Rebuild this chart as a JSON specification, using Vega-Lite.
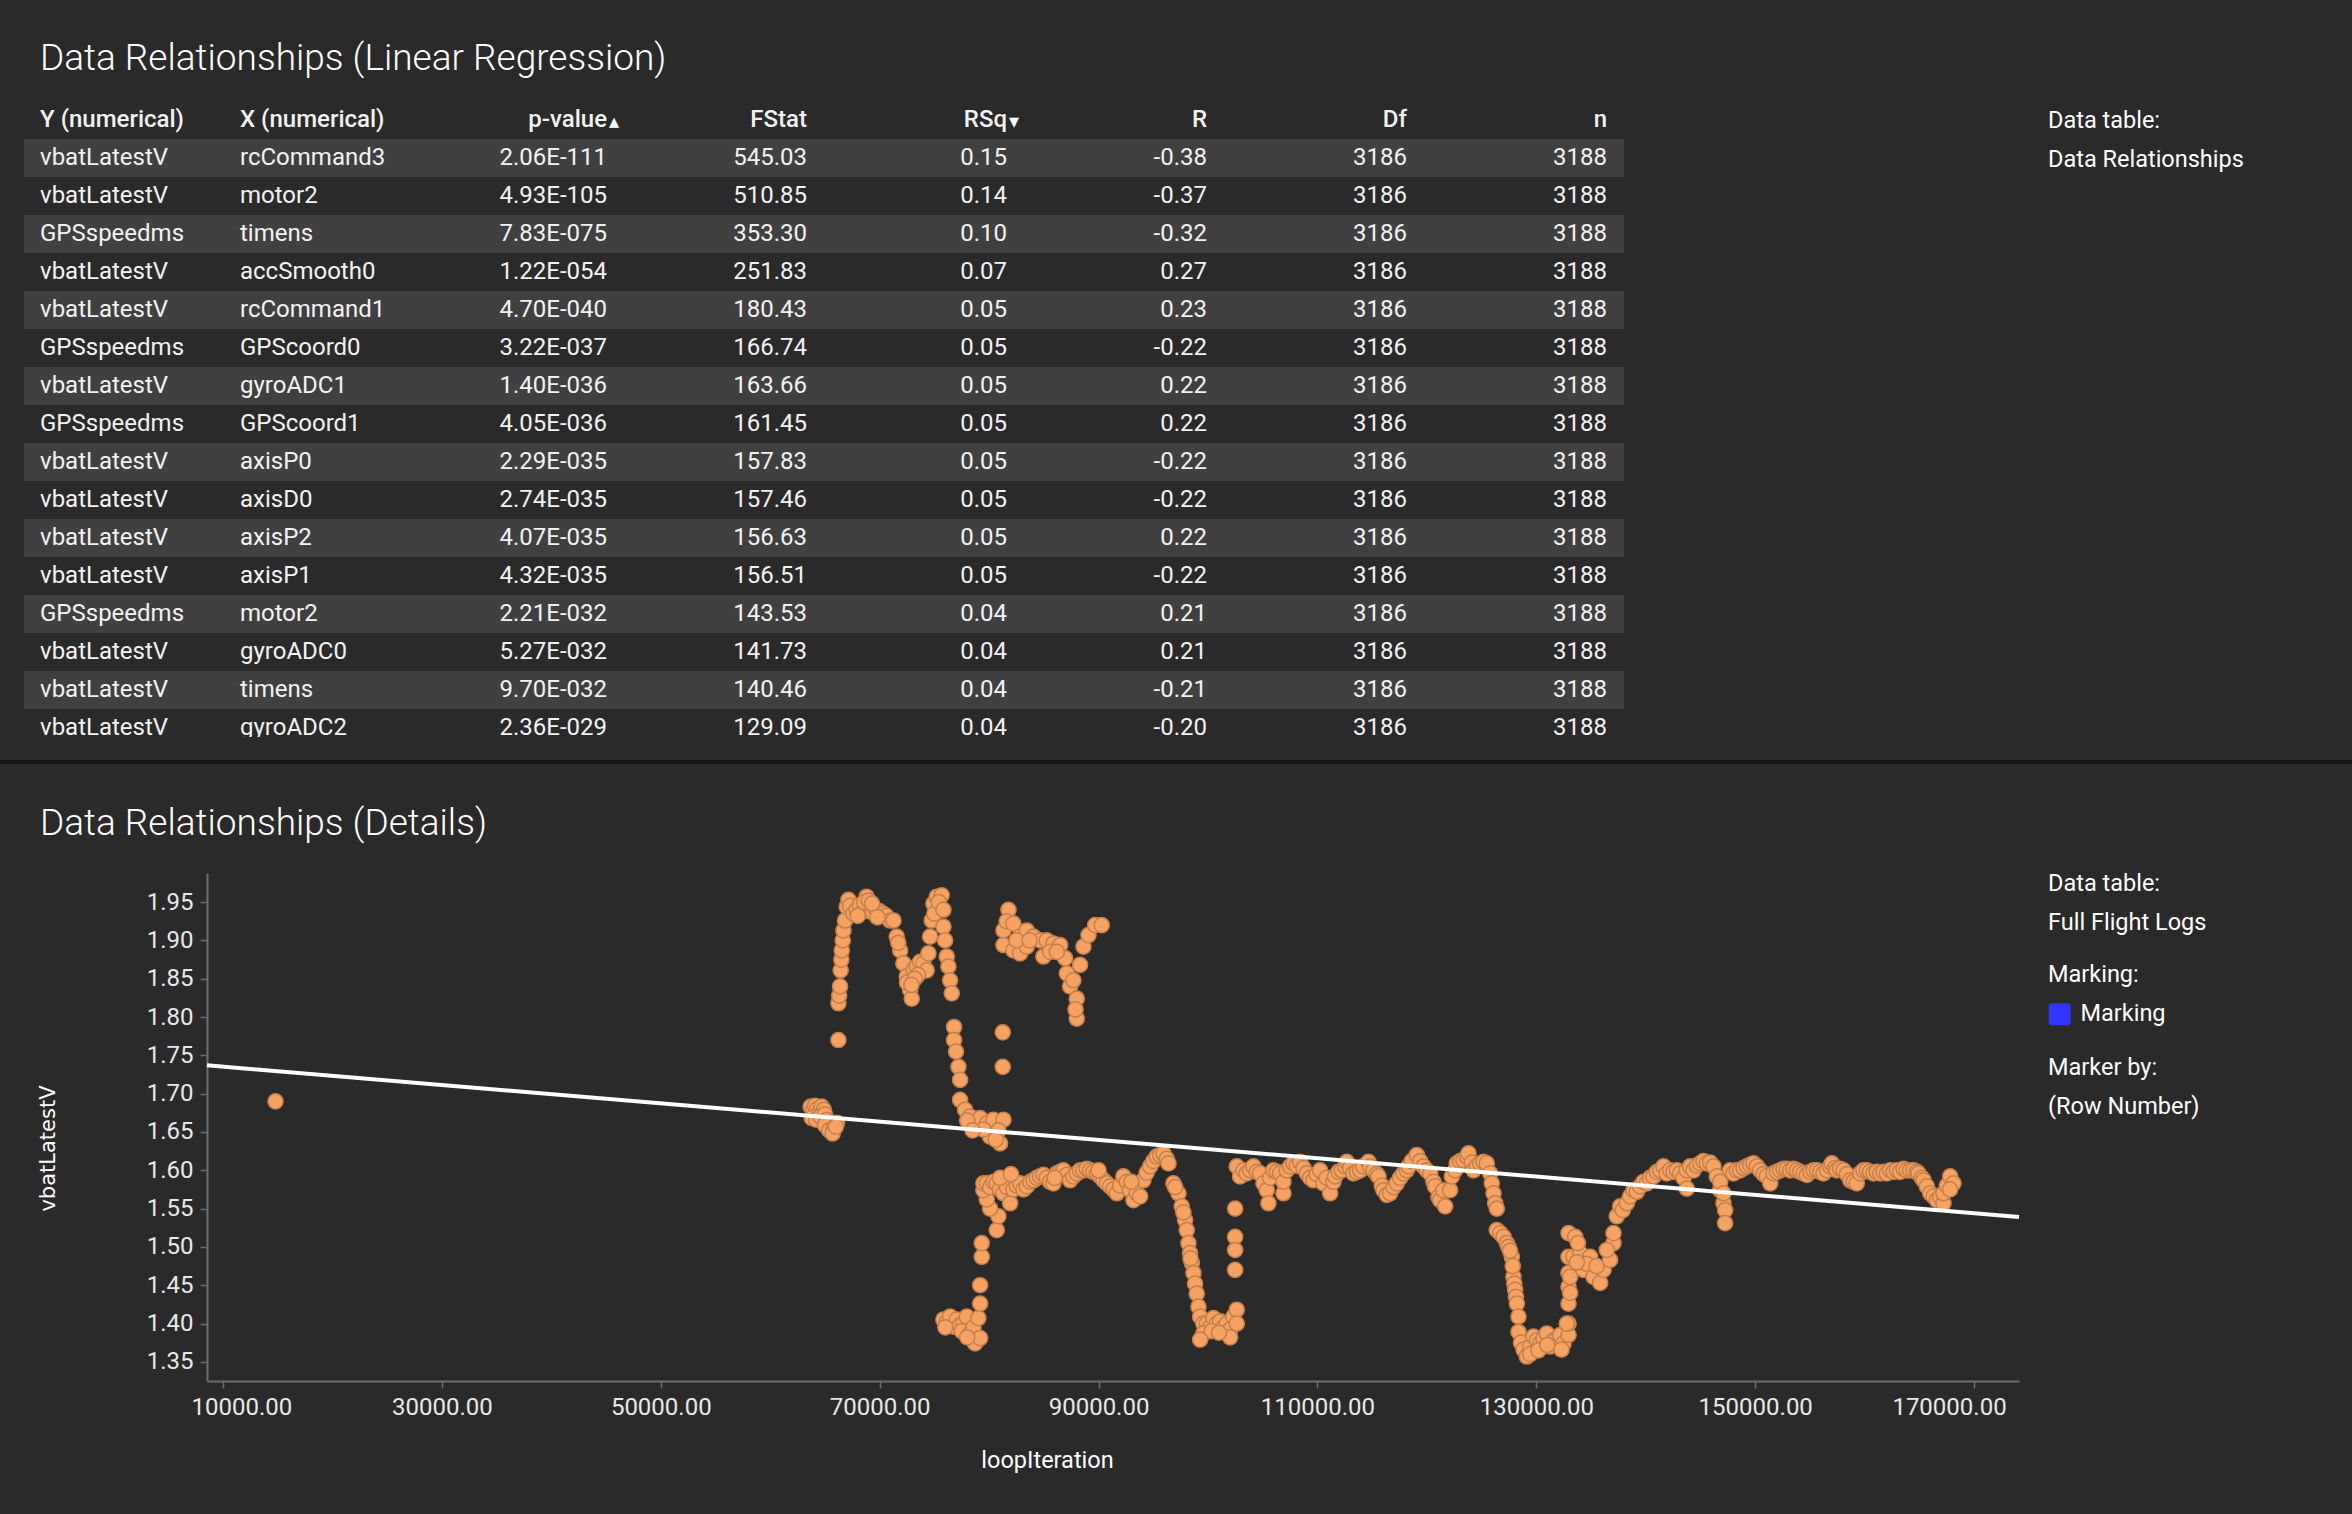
{
  "$schema": "https://vega.github.io/schema/vega-lite/v6.json",
  "background": "#2a2a2a",
  "padding": {"left": 0, "top": 40, "right": 0, "bottom": 43},
  "spacing": 41,
  "resolve": {"scale": {"color": "independent", "shape": "independent"}, "legend": {"color": "independent", "shape": "independent"}},
  "config": {
    "view": {"stroke": null},
    "font": "Roboto",
    "locale": {"number": {"decimal": ".", "thousands": ",", "grouping": [3], "currency": ["$", ""], "minus": "-"}},
    "title": {"font": "Roboto", "fontSize": 37, "fontWeight": 300, "color": "#ffffff", "anchor": "start", "frame": "group", "baseline": "alphabetic"},
    "axis": {"labelFont": "Roboto", "labelFontSize": 24, "labelColor": "#e8e8e8", "domainColor": "#6e6e6e", "tickColor": "#6e6e6e", "domainWidth": 2, "tickWidth": 1.5, "grid": false, "titleColor": "#ffffff"},
    "legend": {"titleFont": "Roboto", "titleFontSize": 23.5, "titleFontWeight": 400, "titleColor": "#ffffff", "labelFont": "Roboto", "labelFontSize": 23.5, "labelColor": "#ffffff", "titlePadding": 16, "labelLimit": 500, "titleLimit": 500},
    "text": {"font": "Roboto", "fontSize": 24, "color": "#f2f2f2"}
  },
  "datasets": {
    "rows": [
      {"rank": 1, "Y": "vbatLatestV", "X": "rcCommand3", "pvalue": "2.06E-111", "FStat": 545.03, "RSq": 0.15, "R": -0.38, "Df": 3186, "n": 3188},
      {"rank": 2, "Y": "vbatLatestV", "X": "motor2", "pvalue": "4.93E-105", "FStat": 510.85, "RSq": 0.14, "R": -0.37, "Df": 3186, "n": 3188},
      {"rank": 3, "Y": "GPSspeedms", "X": "timens", "pvalue": "7.83E-075", "FStat": 353.30, "RSq": 0.10, "R": -0.32, "Df": 3186, "n": 3188},
      {"rank": 4, "Y": "vbatLatestV", "X": "accSmooth0", "pvalue": "1.22E-054", "FStat": 251.83, "RSq": 0.07, "R": 0.27, "Df": 3186, "n": 3188},
      {"rank": 5, "Y": "vbatLatestV", "X": "rcCommand1", "pvalue": "4.70E-040", "FStat": 180.43, "RSq": 0.05, "R": 0.23, "Df": 3186, "n": 3188},
      {"rank": 6, "Y": "GPSspeedms", "X": "GPScoord0", "pvalue": "3.22E-037", "FStat": 166.74, "RSq": 0.05, "R": -0.22, "Df": 3186, "n": 3188},
      {"rank": 7, "Y": "vbatLatestV", "X": "gyroADC1", "pvalue": "1.40E-036", "FStat": 163.66, "RSq": 0.05, "R": 0.22, "Df": 3186, "n": 3188},
      {"rank": 8, "Y": "GPSspeedms", "X": "GPScoord1", "pvalue": "4.05E-036", "FStat": 161.45, "RSq": 0.05, "R": 0.22, "Df": 3186, "n": 3188},
      {"rank": 9, "Y": "vbatLatestV", "X": "axisP0", "pvalue": "2.29E-035", "FStat": 157.83, "RSq": 0.05, "R": -0.22, "Df": 3186, "n": 3188},
      {"rank": 10, "Y": "vbatLatestV", "X": "axisD0", "pvalue": "2.74E-035", "FStat": 157.46, "RSq": 0.05, "R": -0.22, "Df": 3186, "n": 3188},
      {"rank": 11, "Y": "vbatLatestV", "X": "axisP2", "pvalue": "4.07E-035", "FStat": 156.63, "RSq": 0.05, "R": 0.22, "Df": 3186, "n": 3188},
      {"rank": 12, "Y": "vbatLatestV", "X": "axisP1", "pvalue": "4.32E-035", "FStat": 156.51, "RSq": 0.05, "R": -0.22, "Df": 3186, "n": 3188},
      {"rank": 13, "Y": "GPSspeedms", "X": "motor2", "pvalue": "2.21E-032", "FStat": 143.53, "RSq": 0.04, "R": 0.21, "Df": 3186, "n": 3188},
      {"rank": 14, "Y": "vbatLatestV", "X": "gyroADC0", "pvalue": "5.27E-032", "FStat": 141.73, "RSq": 0.04, "R": 0.21, "Df": 3186, "n": 3188},
      {"rank": 15, "Y": "vbatLatestV", "X": "timens", "pvalue": "9.70E-032", "FStat": 140.46, "RSq": 0.04, "R": -0.21, "Df": 3186, "n": 3188},
      {"rank": 16, "Y": "vbatLatestV", "X": "gyroADC2", "pvalue": "2.36E-029", "FStat": 129.09, "RSq": 0.04, "R": -0.20, "Df": 3186, "n": 3188}
    ],
    "headers": [
      {"col": "Y", "label": "Y (numerical)"},
      {"col": "X", "label": "X (numerical)"},
      {"col": "pvalue", "label": "p-value"},
      {"col": "FStat", "label": "FStat"},
      {"col": "RSq", "label": "RSq"},
      {"col": "R", "label": "R"},
      {"col": "Df", "label": "Df"},
      {"col": "n", "label": "n"}
    ],
    "sorts": [
      {"col": "pvalue", "arrow": "▴"},
      {"col": "RSq", "arrow": "▾"}
    ],
    "fit": [
      {"loopIteration": 8540, "vbatLatestV": 1.737},
      {"loopIteration": 174100, "vbatLatestV": 1.539}
    ],
    "points": [
      {"loopIteration": 14800, "vbatLatestV": 1.690},
      {"loopIteration": 63700, "vbatLatestV": 1.683}, {"loopIteration": 63900, "vbatLatestV": 1.678}, {"loopIteration": 64100, "vbatLatestV": 1.684}, {"loopIteration": 64300, "vbatLatestV": 1.680}, {"loopIteration": 64500, "vbatLatestV": 1.676}, {"loopIteration": 64700, "vbatLatestV": 1.683}, {"loopIteration": 64900, "vbatLatestV": 1.679}, {"loopIteration": 63800, "vbatLatestV": 1.668}, {"loopIteration": 64200, "vbatLatestV": 1.666}, {"loopIteration": 64600, "vbatLatestV": 1.670}, {"loopIteration": 65000, "vbatLatestV": 1.673}, {"loopIteration": 65200, "vbatLatestV": 1.666}, {"loopIteration": 65400, "vbatLatestV": 1.662}, {"loopIteration": 65600, "vbatLatestV": 1.658}, {"loopIteration": 65000, "vbatLatestV": 1.659}, {"loopIteration": 65400, "vbatLatestV": 1.652}, {"loopIteration": 65800, "vbatLatestV": 1.654}, {"loopIteration": 66100, "vbatLatestV": 1.662}, {"loopIteration": 65700, "vbatLatestV": 1.648}, {"loopIteration": 66000, "vbatLatestV": 1.657},
      {"loopIteration": 66230, "vbatLatestV": 1.770},
      {"loopIteration": 66230, "vbatLatestV": 1.818}, {"loopIteration": 66300, "vbatLatestV": 1.828}, {"loopIteration": 66380, "vbatLatestV": 1.840}, {"loopIteration": 66440, "vbatLatestV": 1.861}, {"loopIteration": 66500, "vbatLatestV": 1.875}, {"loopIteration": 66540, "vbatLatestV": 1.887}, {"loopIteration": 66630, "vbatLatestV": 1.900}, {"loopIteration": 66690, "vbatLatestV": 1.913}, {"loopIteration": 66840, "vbatLatestV": 1.926}, {"loopIteration": 66990, "vbatLatestV": 1.944}, {"loopIteration": 67150, "vbatLatestV": 1.953},
      {"loopIteration": 67300, "vbatLatestV": 1.945}, {"loopIteration": 67600, "vbatLatestV": 1.935}, {"loopIteration": 67900, "vbatLatestV": 1.940}, {"loopIteration": 68200, "vbatLatestV": 1.946}, {"loopIteration": 68500, "vbatLatestV": 1.938}, {"loopIteration": 68800, "vbatLatestV": 1.957}, {"loopIteration": 69100, "vbatLatestV": 1.944}, {"loopIteration": 69400, "vbatLatestV": 1.936}, {"loopIteration": 69700, "vbatLatestV": 1.940}, {"loopIteration": 70000, "vbatLatestV": 1.938}, {"loopIteration": 70300, "vbatLatestV": 1.935}, {"loopIteration": 70600, "vbatLatestV": 1.932}, {"loopIteration": 70950, "vbatLatestV": 1.926}, {"loopIteration": 68600, "vbatLatestV": 1.950}, {"loopIteration": 69000, "vbatLatestV": 1.952}, {"loopIteration": 69300, "vbatLatestV": 1.948}, {"loopIteration": 68000, "vbatLatestV": 1.932}, {"loopIteration": 69800, "vbatLatestV": 1.930},
      {"loopIteration": 71260, "vbatLatestV": 1.926}, {"loopIteration": 71560, "vbatLatestV": 1.905}, {"loopIteration": 71870, "vbatLatestV": 1.887}, {"loopIteration": 72170, "vbatLatestV": 1.870}, {"loopIteration": 72480, "vbatLatestV": 1.853}, {"loopIteration": 72780, "vbatLatestV": 1.835}, {"loopIteration": 72930, "vbatLatestV": 1.824}, {"loopIteration": 72500, "vbatLatestV": 1.845}, {"loopIteration": 71700, "vbatLatestV": 1.897},
      {"loopIteration": 73100, "vbatLatestV": 1.862}, {"loopIteration": 73390, "vbatLatestV": 1.866}, {"loopIteration": 73700, "vbatLatestV": 1.872}, {"loopIteration": 74000, "vbatLatestV": 1.870}, {"loopIteration": 74300, "vbatLatestV": 1.861}, {"loopIteration": 73500, "vbatLatestV": 1.855}, {"loopIteration": 73200, "vbatLatestV": 1.850}, {"loopIteration": 72900, "vbatLatestV": 1.842},
      {"loopIteration": 74455, "vbatLatestV": 1.883}, {"loopIteration": 74610, "vbatLatestV": 1.905}, {"loopIteration": 74760, "vbatLatestV": 1.926}, {"loopIteration": 74910, "vbatLatestV": 1.948}, {"loopIteration": 75220, "vbatLatestV": 1.957}, {"loopIteration": 75670, "vbatLatestV": 1.959}, {"loopIteration": 75000, "vbatLatestV": 1.935}, {"loopIteration": 75400, "vbatLatestV": 1.950},
      {"loopIteration": 75825, "vbatLatestV": 1.940}, {"loopIteration": 75825, "vbatLatestV": 1.918}, {"loopIteration": 75980, "vbatLatestV": 1.900}, {"loopIteration": 76130, "vbatLatestV": 1.879}, {"loopIteration": 76280, "vbatLatestV": 1.866}, {"loopIteration": 76435, "vbatLatestV": 1.848}, {"loopIteration": 76590, "vbatLatestV": 1.831},
      {"loopIteration": 76800, "vbatLatestV": 1.787}, {"loopIteration": 76800, "vbatLatestV": 1.770}, {"loopIteration": 76980, "vbatLatestV": 1.755}, {"loopIteration": 77200, "vbatLatestV": 1.735}, {"loopIteration": 77350, "vbatLatestV": 1.718},
      {"loopIteration": 77350, "vbatLatestV": 1.692}, {"loopIteration": 77800, "vbatLatestV": 1.679}, {"loopIteration": 78260, "vbatLatestV": 1.670}, {"loopIteration": 78720, "vbatLatestV": 1.661}, {"loopIteration": 79180, "vbatLatestV": 1.668}, {"loopIteration": 79790, "vbatLatestV": 1.661}, {"loopIteration": 80390, "vbatLatestV": 1.666}, {"loopIteration": 81310, "vbatLatestV": 1.666}, {"loopIteration": 80850, "vbatLatestV": 1.652}, {"loopIteration": 80090, "vbatLatestV": 1.644}, {"loopIteration": 81000, "vbatLatestV": 1.635}, {"loopIteration": 79480, "vbatLatestV": 1.653}, {"loopIteration": 78000, "vbatLatestV": 1.665}, {"loopIteration": 78500, "vbatLatestV": 1.652}, {"loopIteration": 80600, "vbatLatestV": 1.640},
      {"loopIteration": 81250, "vbatLatestV": 1.780}, {"loopIteration": 81250, "vbatLatestV": 1.735},
      {"loopIteration": 81770, "vbatLatestV": 1.940}, {"loopIteration": 81310, "vbatLatestV": 1.913}, {"loopIteration": 81310, "vbatLatestV": 1.894}, {"loopIteration": 81600, "vbatLatestV": 1.925}, {"loopIteration": 82220, "vbatLatestV": 1.922}, {"loopIteration": 82830, "vbatLatestV": 1.905}, {"loopIteration": 83440, "vbatLatestV": 1.913}, {"loopIteration": 84050, "vbatLatestV": 1.905}, {"loopIteration": 84660, "vbatLatestV": 1.900}, {"loopIteration": 85270, "vbatLatestV": 1.900}, {"loopIteration": 85880, "vbatLatestV": 1.896}, {"loopIteration": 86490, "vbatLatestV": 1.894}, {"loopIteration": 82220, "vbatLatestV": 1.887}, {"loopIteration": 82830, "vbatLatestV": 1.883}, {"loopIteration": 84960, "vbatLatestV": 1.879}, {"loopIteration": 86940, "vbatLatestV": 1.877}, {"loopIteration": 87100, "vbatLatestV": 1.857}, {"loopIteration": 87400, "vbatLatestV": 1.840}, {"loopIteration": 88010, "vbatLatestV": 1.824}, {"loopIteration": 88010, "vbatLatestV": 1.798}, {"loopIteration": 88310, "vbatLatestV": 1.868}, {"loopIteration": 88620, "vbatLatestV": 1.892}, {"loopIteration": 89080, "vbatLatestV": 1.907}, {"loopIteration": 89690, "vbatLatestV": 1.920}, {"loopIteration": 90290, "vbatLatestV": 1.920}, {"loopIteration": 87700, "vbatLatestV": 1.848}, {"loopIteration": 83440, "vbatLatestV": 1.892}, {"loopIteration": 85570, "vbatLatestV": 1.885}, {"loopIteration": 86180, "vbatLatestV": 1.885}, {"loopIteration": 82500, "vbatLatestV": 1.900}, {"loopIteration": 83700, "vbatLatestV": 1.900}, {"loopIteration": 87900, "vbatLatestV": 1.810},
      {"loopIteration": 75820, "vbatLatestV": 1.405}, {"loopIteration": 76130, "vbatLatestV": 1.402}, {"loopIteration": 76435, "vbatLatestV": 1.409}, {"loopIteration": 76740, "vbatLatestV": 1.396}, {"loopIteration": 77040, "vbatLatestV": 1.405}, {"loopIteration": 77350, "vbatLatestV": 1.398}, {"loopIteration": 77650, "vbatLatestV": 1.400}, {"loopIteration": 77500, "vbatLatestV": 1.390}, {"loopIteration": 77960, "vbatLatestV": 1.409}, {"loopIteration": 78260, "vbatLatestV": 1.387}, {"loopIteration": 78570, "vbatLatestV": 1.395}, {"loopIteration": 78720, "vbatLatestV": 1.374}, {"loopIteration": 79020, "vbatLatestV": 1.407}, {"loopIteration": 79180, "vbatLatestV": 1.381}, {"loopIteration": 76000, "vbatLatestV": 1.395}, {"loopIteration": 78000, "vbatLatestV": 1.382},
      {"loopIteration": 79180, "vbatLatestV": 1.426}, {"loopIteration": 79180, "vbatLatestV": 1.450}, {"loopIteration": 79330, "vbatLatestV": 1.487}, {"loopIteration": 79330, "vbatLatestV": 1.505}, {"loopIteration": 80700, "vbatLatestV": 1.522}, {"loopIteration": 80850, "vbatLatestV": 1.540}, {"loopIteration": 80090, "vbatLatestV": 1.550}, {"loopIteration": 79790, "vbatLatestV": 1.562}, {"loopIteration": 79480, "vbatLatestV": 1.574}, {"loopIteration": 79480, "vbatLatestV": 1.583},
      {"loopIteration": 79790, "vbatLatestV": 1.583}, {"loopIteration": 80100, "vbatLatestV": 1.578}, {"loopIteration": 80400, "vbatLatestV": 1.585}, {"loopIteration": 80700, "vbatLatestV": 1.583}, {"loopIteration": 81000, "vbatLatestV": 1.575}, {"loopIteration": 81310, "vbatLatestV": 1.570}, {"loopIteration": 81620, "vbatLatestV": 1.578}, {"loopIteration": 81920, "vbatLatestV": 1.557}, {"loopIteration": 82220, "vbatLatestV": 1.575}, {"loopIteration": 82530, "vbatLatestV": 1.580}, {"loopIteration": 82830, "vbatLatestV": 1.583}, {"loopIteration": 83140, "vbatLatestV": 1.575}, {"loopIteration": 83440, "vbatLatestV": 1.579}, {"loopIteration": 83750, "vbatLatestV": 1.585}, {"loopIteration": 84050, "vbatLatestV": 1.587}, {"loopIteration": 84360, "vbatLatestV": 1.590}, {"loopIteration": 84660, "vbatLatestV": 1.592}, {"loopIteration": 84970, "vbatLatestV": 1.594}, {"loopIteration": 85270, "vbatLatestV": 1.590}, {"loopIteration": 85580, "vbatLatestV": 1.585}, {"loopIteration": 85880, "vbatLatestV": 1.583}, {"loopIteration": 86180, "vbatLatestV": 1.596}, {"loopIteration": 86490, "vbatLatestV": 1.598}, {"loopIteration": 86790, "vbatLatestV": 1.600}, {"loopIteration": 87100, "vbatLatestV": 1.594}, {"loopIteration": 87400, "vbatLatestV": 1.587}, {"loopIteration": 87700, "vbatLatestV": 1.592}, {"loopIteration": 88010, "vbatLatestV": 1.596}, {"loopIteration": 88310, "vbatLatestV": 1.600}, {"loopIteration": 88620, "vbatLatestV": 1.600}, {"loopIteration": 88920, "vbatLatestV": 1.602}, {"loopIteration": 89230, "vbatLatestV": 1.600}, {"loopIteration": 89530, "vbatLatestV": 1.598}, {"loopIteration": 89840, "vbatLatestV": 1.596}, {"loopIteration": 90140, "vbatLatestV": 1.592}, {"loopIteration": 90450, "vbatLatestV": 1.587}, {"loopIteration": 90750, "vbatLatestV": 1.583}, {"loopIteration": 91060, "vbatLatestV": 1.579}, {"loopIteration": 91360, "vbatLatestV": 1.575}, {"loopIteration": 91670, "vbatLatestV": 1.570}, {"loopIteration": 91970, "vbatLatestV": 1.580}, {"loopIteration": 92270, "vbatLatestV": 1.592}, {"loopIteration": 92580, "vbatLatestV": 1.585}, {"loopIteration": 92880, "vbatLatestV": 1.574}, {"loopIteration": 93190, "vbatLatestV": 1.561}, {"loopIteration": 93490, "vbatLatestV": 1.570}, {"loopIteration": 93800, "vbatLatestV": 1.566}, {"loopIteration": 94100, "vbatLatestV": 1.587}, {"loopIteration": 94400, "vbatLatestV": 1.597}, {"loopIteration": 94710, "vbatLatestV": 1.605}, {"loopIteration": 95010, "vbatLatestV": 1.612}, {"loopIteration": 95320, "vbatLatestV": 1.618}, {"loopIteration": 95620, "vbatLatestV": 1.620}, {"loopIteration": 95930, "vbatLatestV": 1.622}, {"loopIteration": 96230, "vbatLatestV": 1.615}, {"loopIteration": 96390, "vbatLatestV": 1.609}, {"loopIteration": 96840, "vbatLatestV": 1.583}, {"loopIteration": 81000, "vbatLatestV": 1.590}, {"loopIteration": 82000, "vbatLatestV": 1.595}, {"loopIteration": 86000, "vbatLatestV": 1.590}, {"loopIteration": 90000, "vbatLatestV": 1.600}, {"loopIteration": 93000, "vbatLatestV": 1.585},
      {"loopIteration": 97300, "vbatLatestV": 1.570}, {"loopIteration": 97600, "vbatLatestV": 1.553}, {"loopIteration": 97910, "vbatLatestV": 1.535}, {"loopIteration": 98060, "vbatLatestV": 1.522}, {"loopIteration": 98210, "vbatLatestV": 1.505}, {"loopIteration": 98360, "vbatLatestV": 1.492}, {"loopIteration": 98520, "vbatLatestV": 1.479}, {"loopIteration": 98670, "vbatLatestV": 1.466}, {"loopIteration": 98820, "vbatLatestV": 1.452}, {"loopIteration": 98970, "vbatLatestV": 1.439}, {"loopIteration": 99130, "vbatLatestV": 1.422}, {"loopIteration": 97000, "vbatLatestV": 1.578}, {"loopIteration": 97750, "vbatLatestV": 1.545}, {"loopIteration": 98400, "vbatLatestV": 1.485},
      {"loopIteration": 99280, "vbatLatestV": 1.409}, {"loopIteration": 99580, "vbatLatestV": 1.400}, {"loopIteration": 99890, "vbatLatestV": 1.400}, {"loopIteration": 100190, "vbatLatestV": 1.395}, {"loopIteration": 100500, "vbatLatestV": 1.407}, {"loopIteration": 100800, "vbatLatestV": 1.400}, {"loopIteration": 101110, "vbatLatestV": 1.403}, {"loopIteration": 101410, "vbatLatestV": 1.395}, {"loopIteration": 101720, "vbatLatestV": 1.400}, {"loopIteration": 102020, "vbatLatestV": 1.392}, {"loopIteration": 102320, "vbatLatestV": 1.409}, {"loopIteration": 99580, "vbatLatestV": 1.387}, {"loopIteration": 100340, "vbatLatestV": 1.390}, {"loopIteration": 102020, "vbatLatestV": 1.382}, {"loopIteration": 99280, "vbatLatestV": 1.379}, {"loopIteration": 102630, "vbatLatestV": 1.418}, {"loopIteration": 102630, "vbatLatestV": 1.400}, {"loopIteration": 101000, "vbatLatestV": 1.388},
      {"loopIteration": 102480, "vbatLatestV": 1.550}, {"loopIteration": 102480, "vbatLatestV": 1.513}, {"loopIteration": 102480, "vbatLatestV": 1.496}, {"loopIteration": 102480, "vbatLatestV": 1.470},
      {"loopIteration": 102630, "vbatLatestV": 1.605}, {"loopIteration": 102930, "vbatLatestV": 1.592}, {"loopIteration": 103240, "vbatLatestV": 1.600}, {"loopIteration": 103540, "vbatLatestV": 1.596}, {"loopIteration": 103850, "vbatLatestV": 1.600}, {"loopIteration": 104150, "vbatLatestV": 1.605}, {"loopIteration": 104460, "vbatLatestV": 1.598}, {"loopIteration": 104760, "vbatLatestV": 1.596}, {"loopIteration": 105070, "vbatLatestV": 1.583}, {"loopIteration": 105370, "vbatLatestV": 1.574}, {"loopIteration": 105520, "vbatLatestV": 1.557}, {"loopIteration": 105680, "vbatLatestV": 1.590}, {"loopIteration": 105980, "vbatLatestV": 1.600}, {"loopIteration": 106290, "vbatLatestV": 1.598}, {"loopIteration": 106590, "vbatLatestV": 1.596}, {"loopIteration": 106890, "vbatLatestV": 1.570}, {"loopIteration": 106890, "vbatLatestV": 1.585}, {"loopIteration": 107200, "vbatLatestV": 1.600}, {"loopIteration": 107500, "vbatLatestV": 1.605}, {"loopIteration": 107810, "vbatLatestV": 1.609}, {"loopIteration": 108110, "vbatLatestV": 1.606}, {"loopIteration": 108420, "vbatLatestV": 1.611}, {"loopIteration": 108720, "vbatLatestV": 1.603}, {"loopIteration": 109030, "vbatLatestV": 1.596}, {"loopIteration": 109330, "vbatLatestV": 1.590}, {"loopIteration": 109630, "vbatLatestV": 1.587}, {"loopIteration": 109940, "vbatLatestV": 1.595}, {"loopIteration": 110240, "vbatLatestV": 1.600}, {"loopIteration": 110550, "vbatLatestV": 1.583}, {"loopIteration": 110850, "vbatLatestV": 1.590}, {"loopIteration": 111160, "vbatLatestV": 1.570}, {"loopIteration": 111460, "vbatLatestV": 1.585}, {"loopIteration": 111610, "vbatLatestV": 1.592}, {"loopIteration": 111920, "vbatLatestV": 1.598}, {"loopIteration": 112220, "vbatLatestV": 1.600}, {"loopIteration": 112530, "vbatLatestV": 1.605}, {"loopIteration": 112680, "vbatLatestV": 1.611}, {"loopIteration": 112990, "vbatLatestV": 1.603}, {"loopIteration": 113290, "vbatLatestV": 1.596}, {"loopIteration": 113600, "vbatLatestV": 1.598}, {"loopIteration": 113900, "vbatLatestV": 1.600}, {"loopIteration": 114200, "vbatLatestV": 1.605}, {"loopIteration": 114660, "vbatLatestV": 1.611}, {"loopIteration": 114810, "vbatLatestV": 1.605}, {"loopIteration": 115120, "vbatLatestV": 1.600}, {"loopIteration": 115420, "vbatLatestV": 1.595}, {"loopIteration": 115580, "vbatLatestV": 1.592}, {"loopIteration": 115880, "vbatLatestV": 1.580}, {"loopIteration": 116030, "vbatLatestV": 1.574}, {"loopIteration": 116340, "vbatLatestV": 1.568}, {"loopIteration": 116640, "vbatLatestV": 1.570}, {"loopIteration": 116950, "vbatLatestV": 1.578}, {"loopIteration": 117250, "vbatLatestV": 1.583}, {"loopIteration": 117550, "vbatLatestV": 1.590}, {"loopIteration": 117860, "vbatLatestV": 1.596}, {"loopIteration": 118160, "vbatLatestV": 1.600}, {"loopIteration": 118320, "vbatLatestV": 1.605}, {"loopIteration": 118620, "vbatLatestV": 1.612}, {"loopIteration": 119080, "vbatLatestV": 1.620}, {"loopIteration": 119380, "vbatLatestV": 1.612}, {"loopIteration": 119690, "vbatLatestV": 1.605}, {"loopIteration": 119990, "vbatLatestV": 1.600}, {"loopIteration": 120300, "vbatLatestV": 1.596}, {"loopIteration": 120600, "vbatLatestV": 1.585}, {"loopIteration": 120750, "vbatLatestV": 1.579}, {"loopIteration": 121060, "vbatLatestV": 1.565}, {"loopIteration": 121210, "vbatLatestV": 1.561}, {"loopIteration": 121670, "vbatLatestV": 1.553}, {"loopIteration": 121510, "vbatLatestV": 1.574}, {"loopIteration": 122120, "vbatLatestV": 1.574}, {"loopIteration": 122280, "vbatLatestV": 1.592}, {"loopIteration": 122580, "vbatLatestV": 1.600}, {"loopIteration": 122730, "vbatLatestV": 1.609}, {"loopIteration": 123040, "vbatLatestV": 1.612}, {"loopIteration": 123340, "vbatLatestV": 1.613}, {"loopIteration": 123650, "vbatLatestV": 1.618}, {"loopIteration": 123800, "vbatLatestV": 1.622}, {"loopIteration": 124100, "vbatLatestV": 1.610}, {"loopIteration": 124260, "vbatLatestV": 1.600}, {"loopIteration": 124560, "vbatLatestV": 1.605}, {"loopIteration": 124870, "vbatLatestV": 1.609}, {"loopIteration": 125170, "vbatLatestV": 1.611}, {"loopIteration": 125470, "vbatLatestV": 1.609}, {"loopIteration": 125780, "vbatLatestV": 1.596}, {"loopIteration": 125930, "vbatLatestV": 1.583}, {"loopIteration": 126090, "vbatLatestV": 1.570}, {"loopIteration": 126240, "vbatLatestV": 1.557}, {"loopIteration": 126390, "vbatLatestV": 1.550},
      {"loopIteration": 126390, "vbatLatestV": 1.522}, {"loopIteration": 126700, "vbatLatestV": 1.518}, {"loopIteration": 127000, "vbatLatestV": 1.513}, {"loopIteration": 127300, "vbatLatestV": 1.505}, {"loopIteration": 127450, "vbatLatestV": 1.500}, {"loopIteration": 127760, "vbatLatestV": 1.487}, {"loopIteration": 127910, "vbatLatestV": 1.461}, {"loopIteration": 127990, "vbatLatestV": 1.452}, {"loopIteration": 128060, "vbatLatestV": 1.444}, {"loopIteration": 128140, "vbatLatestV": 1.435}, {"loopIteration": 128220, "vbatLatestV": 1.426}, {"loopIteration": 128370, "vbatLatestV": 1.409}, {"loopIteration": 128370, "vbatLatestV": 1.389}, {"loopIteration": 128600, "vbatLatestV": 1.375}, {"loopIteration": 128830, "vbatLatestV": 1.366}, {"loopIteration": 129130, "vbatLatestV": 1.357}, {"loopIteration": 127600, "vbatLatestV": 1.495}, {"loopIteration": 127850, "vbatLatestV": 1.475},
      {"loopIteration": 129440, "vbatLatestV": 1.370}, {"loopIteration": 129740, "vbatLatestV": 1.383}, {"loopIteration": 130050, "vbatLatestV": 1.378}, {"loopIteration": 130350, "vbatLatestV": 1.374}, {"loopIteration": 130650, "vbatLatestV": 1.380}, {"loopIteration": 130960, "vbatLatestV": 1.387}, {"loopIteration": 131260, "vbatLatestV": 1.370}, {"loopIteration": 131570, "vbatLatestV": 1.378}, {"loopIteration": 131870, "vbatLatestV": 1.379}, {"loopIteration": 132180, "vbatLatestV": 1.385}, {"loopIteration": 132480, "vbatLatestV": 1.374}, {"loopIteration": 132940, "vbatLatestV": 1.385}, {"loopIteration": 129440, "vbatLatestV": 1.360}, {"loopIteration": 130200, "vbatLatestV": 1.365}, {"loopIteration": 131000, "vbatLatestV": 1.372}, {"loopIteration": 132300, "vbatLatestV": 1.366},
      {"loopIteration": 132940, "vbatLatestV": 1.400}, {"loopIteration": 132940, "vbatLatestV": 1.426}, {"loopIteration": 132940, "vbatLatestV": 1.448}, {"loopIteration": 132940, "vbatLatestV": 1.466}, {"loopIteration": 132940, "vbatLatestV": 1.487}, {"loopIteration": 132940, "vbatLatestV": 1.518},
      {"loopIteration": 132780, "vbatLatestV": 1.400}, {"loopIteration": 133090, "vbatLatestV": 1.440}, {"loopIteration": 133090, "vbatLatestV": 1.461}, {"loopIteration": 133390, "vbatLatestV": 1.487}, {"loopIteration": 133550, "vbatLatestV": 1.513}, {"loopIteration": 134000, "vbatLatestV": 1.492}, {"loopIteration": 134310, "vbatLatestV": 1.470}, {"loopIteration": 134920, "vbatLatestV": 1.487}, {"loopIteration": 135220, "vbatLatestV": 1.461}, {"loopIteration": 135830, "vbatLatestV": 1.453}, {"loopIteration": 136140, "vbatLatestV": 1.470}, {"loopIteration": 136740, "vbatLatestV": 1.483}, {"loopIteration": 137050, "vbatLatestV": 1.505}, {"loopIteration": 137050, "vbatLatestV": 1.518}, {"loopIteration": 136440, "vbatLatestV": 1.496}, {"loopIteration": 133800, "vbatLatestV": 1.505}, {"loopIteration": 134600, "vbatLatestV": 1.478}, {"loopIteration": 135500, "vbatLatestV": 1.475}, {"loopIteration": 133700, "vbatLatestV": 1.480},
      {"loopIteration": 137350, "vbatLatestV": 1.540}, {"loopIteration": 137660, "vbatLatestV": 1.553}, {"loopIteration": 137900, "vbatLatestV": 1.548}, {"loopIteration": 138270, "vbatLatestV": 1.557}, {"loopIteration": 138570, "vbatLatestV": 1.566}, {"loopIteration": 138880, "vbatLatestV": 1.574}, {"loopIteration": 139180, "vbatLatestV": 1.572}, {"loopIteration": 139490, "vbatLatestV": 1.579}, {"loopIteration": 139790, "vbatLatestV": 1.585}, {"loopIteration": 140090, "vbatLatestV": 1.583}, {"loopIteration": 140400, "vbatLatestV": 1.590}, {"loopIteration": 140700, "vbatLatestV": 1.592}, {"loopIteration": 141010, "vbatLatestV": 1.598}, {"loopIteration": 141310, "vbatLatestV": 1.600}, {"loopIteration": 141620, "vbatLatestV": 1.605}, {"loopIteration": 141920, "vbatLatestV": 1.596}, {"loopIteration": 142230, "vbatLatestV": 1.600}, {"loopIteration": 142530, "vbatLatestV": 1.598}, {"loopIteration": 142840, "vbatLatestV": 1.600}, {"loopIteration": 143140, "vbatLatestV": 1.596}, {"loopIteration": 143450, "vbatLatestV": 1.590}, {"loopIteration": 143750, "vbatLatestV": 1.576}, {"loopIteration": 143750, "vbatLatestV": 1.600}, {"loopIteration": 144050, "vbatLatestV": 1.605}, {"loopIteration": 144360, "vbatLatestV": 1.600}, {"loopIteration": 144660, "vbatLatestV": 1.606}, {"loopIteration": 144970, "vbatLatestV": 1.609}, {"loopIteration": 145270, "vbatLatestV": 1.612}, {"loopIteration": 145580, "vbatLatestV": 1.609}, {"loopIteration": 145880, "vbatLatestV": 1.610}, {"loopIteration": 146190, "vbatLatestV": 1.605}, {"loopIteration": 146490, "vbatLatestV": 1.592}, {"loopIteration": 146800, "vbatLatestV": 1.574}, {"loopIteration": 146800, "vbatLatestV": 1.585}, {"loopIteration": 147100, "vbatLatestV": 1.557}, {"loopIteration": 147250, "vbatLatestV": 1.548}, {"loopIteration": 147250, "vbatLatestV": 1.531}, {"loopIteration": 147100, "vbatLatestV": 1.570},
      {"loopIteration": 147710, "vbatLatestV": 1.600}, {"loopIteration": 148010, "vbatLatestV": 1.596}, {"loopIteration": 148320, "vbatLatestV": 1.600}, {"loopIteration": 148620, "vbatLatestV": 1.600}, {"loopIteration": 148930, "vbatLatestV": 1.603}, {"loopIteration": 149230, "vbatLatestV": 1.605}, {"loopIteration": 149540, "vbatLatestV": 1.607}, {"loopIteration": 149840, "vbatLatestV": 1.609}, {"loopIteration": 150150, "vbatLatestV": 1.605}, {"loopIteration": 150450, "vbatLatestV": 1.600}, {"loopIteration": 150760, "vbatLatestV": 1.595}, {"loopIteration": 151060, "vbatLatestV": 1.592}, {"loopIteration": 151370, "vbatLatestV": 1.583}, {"loopIteration": 151670, "vbatLatestV": 1.596}, {"loopIteration": 151980, "vbatLatestV": 1.598}, {"loopIteration": 152280, "vbatLatestV": 1.600}, {"loopIteration": 152590, "vbatLatestV": 1.602}, {"loopIteration": 152890, "vbatLatestV": 1.602}, {"loopIteration": 153200, "vbatLatestV": 1.600}, {"loopIteration": 153500, "vbatLatestV": 1.602}, {"loopIteration": 153810, "vbatLatestV": 1.600}, {"loopIteration": 154110, "vbatLatestV": 1.598}, {"loopIteration": 154420, "vbatLatestV": 1.596}, {"loopIteration": 154720, "vbatLatestV": 1.594}, {"loopIteration": 155030, "vbatLatestV": 1.598}, {"loopIteration": 155330, "vbatLatestV": 1.600}, {"loopIteration": 155640, "vbatLatestV": 1.600}, {"loopIteration": 155940, "vbatLatestV": 1.598}, {"loopIteration": 156240, "vbatLatestV": 1.596}, {"loopIteration": 156550, "vbatLatestV": 1.600}, {"loopIteration": 156850, "vbatLatestV": 1.605}, {"loopIteration": 157000, "vbatLatestV": 1.609}, {"loopIteration": 157300, "vbatLatestV": 1.603}, {"loopIteration": 157460, "vbatLatestV": 1.600}, {"loopIteration": 157760, "vbatLatestV": 1.602}, {"loopIteration": 158070, "vbatLatestV": 1.600}, {"loopIteration": 158370, "vbatLatestV": 1.595}, {"loopIteration": 158680, "vbatLatestV": 1.587}, {"loopIteration": 158980, "vbatLatestV": 1.585}, {"loopIteration": 159280, "vbatLatestV": 1.583}, {"loopIteration": 159590, "vbatLatestV": 1.596}, {"loopIteration": 159890, "vbatLatestV": 1.600}, {"loopIteration": 160200, "vbatLatestV": 1.600}, {"loopIteration": 160500, "vbatLatestV": 1.598}, {"loopIteration": 160810, "vbatLatestV": 1.596}, {"loopIteration": 161110, "vbatLatestV": 1.598}, {"loopIteration": 161420, "vbatLatestV": 1.596}, {"loopIteration": 161720, "vbatLatestV": 1.598}, {"loopIteration": 162030, "vbatLatestV": 1.596}, {"loopIteration": 162330, "vbatLatestV": 1.600}, {"loopIteration": 162640, "vbatLatestV": 1.598}, {"loopIteration": 162940, "vbatLatestV": 1.600}, {"loopIteration": 163240, "vbatLatestV": 1.598}, {"loopIteration": 163550, "vbatLatestV": 1.602}, {"loopIteration": 163850, "vbatLatestV": 1.600}, {"loopIteration": 164160, "vbatLatestV": 1.600}, {"loopIteration": 164460, "vbatLatestV": 1.600}, {"loopIteration": 164770, "vbatLatestV": 1.598}, {"loopIteration": 164920, "vbatLatestV": 1.596}, {"loopIteration": 165220, "vbatLatestV": 1.590}, {"loopIteration": 165380, "vbatLatestV": 1.587}, {"loopIteration": 165680, "vbatLatestV": 1.579}, {"loopIteration": 165990, "vbatLatestV": 1.570}, {"loopIteration": 166290, "vbatLatestV": 1.566}, {"loopIteration": 166590, "vbatLatestV": 1.561}, {"loopIteration": 166900, "vbatLatestV": 1.565}, {"loopIteration": 167200, "vbatLatestV": 1.557}, {"loopIteration": 167200, "vbatLatestV": 1.570}, {"loopIteration": 167510, "vbatLatestV": 1.580}, {"loopIteration": 167810, "vbatLatestV": 1.592}, {"loopIteration": 168120, "vbatLatestV": 1.583}, {"loopIteration": 167800, "vbatLatestV": 1.575}
    ]
  },
  "vconcat": [
    {
      "spacing": 23,
      "vconcat": [
        {
          "title": {"text": "Data Relationships (Linear Regression)", "offset": 23, "dx": 40},
          "width": 1624,
          "height": 636,
          "data": {"name": "rows"},
          "layer": [
            {
              "transform": [{"fold": ["Y", "X", "pvalue", "FStat", "RSq", "R", "Df", "n"], "as": ["col", "val"]}],
              "mark": {"type": "rect", "clip": true},
              "encoding": {
                "x": {"field": "col", "type": "nominal", "scale": {"domain": ["Y", "X", "pvalue", "FStat", "RSq", "R", "Df", "n"], "range": [24, 1624], "paddingInner": 0, "paddingOuter": 0}, "axis": null},
                "y": {"field": "rank", "type": "ordinal", "scale": {"domain": [0, 1, 2, 3, 4, 5, 6, 7, 8, 9, 10, 11, 12, 13, 14, 15, 16], "range": [0, 646], "paddingInner": 0, "paddingOuter": 0}, "axis": null},
                "fill": {"condition": {"test": "datum.rank % 2 === 1", "value": "#404040"}, "value": "#2a2a2a"}
              }
            },
            {
              "transform": [{"fold": ["Y", "X"], "as": ["col", "val"]}],
              "mark": {"type": "text", "align": "left", "baseline": "middle", "dx": 16, "clip": true},
              "encoding": {
                "x": {"field": "col", "type": "nominal", "bandPosition": 0},
                "y": {"field": "rank", "type": "ordinal", "bandPosition": 0.5},
                "text": {"field": "val", "type": "nominal"}
              }
            },
            {
              "transform": [{"fold": ["pvalue"], "as": ["col", "val"]}],
              "mark": {"type": "text", "align": "right", "baseline": "middle", "dx": -17, "clip": true},
              "encoding": {
                "x": {"field": "col", "type": "nominal", "bandPosition": 1},
                "y": {"field": "rank", "type": "ordinal", "bandPosition": 0.5},
                "text": {"field": "val", "type": "nominal"}
              }
            },
            {
              "transform": [{"fold": ["FStat", "RSq", "R"], "as": ["col", "val"]}],
              "mark": {"type": "text", "align": "right", "baseline": "middle", "dx": -17, "clip": true},
              "encoding": {
                "x": {"field": "col", "type": "nominal", "bandPosition": 1},
                "y": {"field": "rank", "type": "ordinal", "bandPosition": 0.5},
                "text": {"field": "val", "type": "quantitative", "format": ".2f"}
              }
            },
            {
              "transform": [{"fold": ["Df", "n"], "as": ["col", "val"]}],
              "mark": {"type": "text", "align": "right", "baseline": "middle", "dx": -17, "clip": true},
              "encoding": {
                "x": {"field": "col", "type": "nominal", "bandPosition": 1},
                "y": {"field": "rank", "type": "ordinal", "bandPosition": 0.5},
                "text": {"field": "val", "type": "quantitative", "format": "d"}
              }
            },
            {
              "data": {"name": "headers"},
              "transform": [{"filter": "datum.col === 'Y' || datum.col === 'X'"}],
              "mark": {"type": "text", "align": "left", "baseline": "middle", "dx": 16, "fontWeight": 500},
              "encoding": {
                "x": {"field": "col", "type": "nominal", "bandPosition": 0},
                "y": {"datum": 0, "type": "ordinal", "bandPosition": 0.5},
                "text": {"field": "label", "type": "nominal"}
              }
            },
            {
              "data": {"name": "headers"},
              "transform": [{"filter": "datum.col !== 'Y' && datum.col !== 'X'"}],
              "mark": {"type": "text", "align": "right", "baseline": "middle", "dx": -17, "fontWeight": 500},
              "encoding": {
                "x": {"field": "col", "type": "nominal", "bandPosition": 1},
                "y": {"datum": 0, "type": "ordinal", "bandPosition": 0.5},
                "text": {"field": "label", "type": "nominal"}
              }
            },
            {
              "data": {"name": "sorts"},
              "mark": {"type": "text", "align": "left", "baseline": "alphabetic", "dx": -15, "dy": 8, "font": "DejaVu Sans", "fontSize": 20, "color": "#ffffff"},
              "encoding": {
                "x": {"field": "col", "type": "nominal", "bandPosition": 1},
                "y": {"datum": 0, "type": "ordinal", "bandPosition": 0.5},
                "text": {"field": "arrow", "type": "nominal"}
              }
            },
            {
              "data": {"values": [{}]},
              "mark": {"type": "point", "opacity": 0, "size": 0},
              "encoding": {
                "shape": {"datum": "Data Relationships", "type": "nominal", "legend": {"title": "Data table:", "orient": "none", "legendX": 2048, "legendY": 8, "symbolSize": 1, "symbolOpacity": 0, "symbolStrokeWidth": 0, "labelOffset": -23.5}}
              }
            }
          ]
        },
        {
          "width": 2352,
          "height": 4,
          "view": {"fill": "#161616", "stroke": null},
          "data": {"values": [{}]},
          "mark": {"type": "point", "opacity": 0, "size": 0}
        }
      ]
    },
    {
      "title": {"text": "Data Relationships (Details)", "offset": 29, "dx": 40},
      "width": 2019,
      "height": 508,
      "layer": [
        {
          "data": {"name": "points"},
          "mark": {"type": "point", "filled": true, "size": 230, "fill": "#f6a263", "stroke": "#c4804c", "strokeWidth": 1.5, "opacity": 1},
          "encoding": {
            "x": {
              "field": "loopIteration", "type": "quantitative",
              "scale": {"domain": [8540, 174100], "range": [207, 2019], "nice": false, "zero": false},
              "axis": {"values": [10000, 30000, 50000, 70000, 90000, 110000, 130000, 150000, 170000], "format": ".2f", "title": "loopIteration", "titleX": 1047, "titleY": 79, "titleBaseline": "middle", "titleAlign": "center", "titleFont": "Roboto", "titleFontSize": 23.5, "titleFontWeight": 400, "tickSize": 7, "labelPadding": 7, "labelFlush": 60, "labelFlushOffset": 32, "labelOverlap": false}
            },
            "y": {
              "field": "vbatLatestV", "type": "quantitative",
              "scale": {"domain": [1.325, 1.988], "nice": false, "zero": false},
              "axis": {"values": [1.35, 1.4, 1.45, 1.5, 1.55, 1.6, 1.65, 1.7, 1.75, 1.8, 1.85, 1.9, 1.95], "format": ".2f", "title": "vbatLatestV", "offset": -207, "titleX": -159, "titleY": 275, "titleAngle": -90, "titleBaseline": "middle", "titleAlign": "center", "titleFont": "DejaVu Sans", "titleFontSize": 21, "titleFontWeight": 400, "tickSize": 7, "labelPadding": 7, "labelOverlap": false}
            }
          }
        },
        {
          "data": {"name": "fit"},
          "mark": {"type": "line", "color": "#ffffff", "strokeWidth": 4},
          "encoding": {
            "x": {"field": "loopIteration", "type": "quantitative"},
            "y": {"field": "vbatLatestV", "type": "quantitative"}
          }
        },
        {
          "data": {"values": [{}]},
          "mark": {"type": "point", "opacity": 0, "size": 0},
          "encoding": {
            "shape": {"datum": "Full Flight Logs", "type": "nominal", "legend": {"title": "Data table:", "orient": "none", "legendX": 2048, "legendY": -1, "symbolSize": 1, "symbolOpacity": 0, "symbolStrokeWidth": 0, "labelOffset": -23.5}}
          }
        },
        {
          "data": {"values": [{}]},
          "mark": {"type": "point", "opacity": 0, "size": 0, "filled": true},
          "encoding": {
            "color": {"datum": "Marking", "type": "nominal", "scale": {"range": ["#3333ff"]}, "legend": {"title": "Marking:", "orient": "none", "legendX": 2048, "legendY": 90, "symbolType": "M -0.7 -1 L 0.7 -1 Q 1 -1 1 -0.7 L 1 0.7 Q 1 1 0.7 1 L -0.7 1 Q -1 1 -1 0.7 L -1 -0.7 Q -1 -1 -0.7 -1 Z", "symbolSize": 484, "symbolOpacity": 1, "symbolFillColor": "#3333ff", "symbolStrokeWidth": 0, "labelOffset": 9}}
          }
        },
        {
          "data": {"values": [{}]},
          "mark": {"type": "point", "opacity": 0, "size": 0},
          "encoding": {
            "shape": {"datum": "(Row Number)", "type": "nominal", "legend": {"title": "Marker by:", "orient": "none", "legendX": 2048, "legendY": 183, "symbolSize": 1, "symbolOpacity": 0, "symbolStrokeWidth": 0, "labelOffset": -23.5}}
          }
        }
      ],
      "resolve": {"scale": {"shape": "independent"}}
    }
  ]
}
